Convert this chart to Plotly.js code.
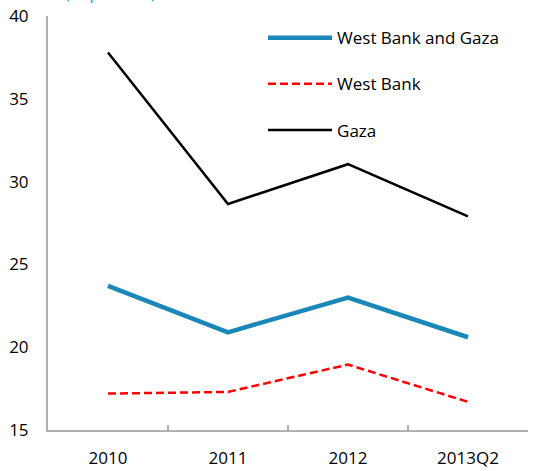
<!DOCTYPE html>
<html>
<head>
<meta charset="utf-8">
<script src="https://cdn.plot.ly/plotly-3.0.1.min.js"></script>
<style>html,body{margin:0;padding:0;background:#fff}#chart{width:544px;height:471px}</style>
</head>
<body>
<div id="chart"></div>
<script>
const categories = ["2010", "2011", "2012", "2013Q2"];
const westBankAndGaza = [23.7, 20.9, 23.0, 20.6];
const westBank = [17.2, 17.3, 18.95, 16.7];
const gaza = [37.8, 28.65, 31.05, 27.9];
const yTicks = [15, 20, 25, 30, 35, 40];

const font = "'Open Sans', 'Noto Sans', sans-serif";

const traces = [
  {x: categories, y: westBankAndGaza, name: "West Bank and Gaza", type: "scatter", mode: "lines",
   line: {color: "#1a87b8", width: 4.5}, legendgroup: "a"},
  {x: categories, y: westBank, name: "West Bank", type: "scatter", mode: "lines",
   line: {color: "#ff0000", width: 2.5, dash: "8px,4px"}, legendgroup: "b"},
  {x: categories, y: gaza, name: "Gaza", type: "scatter", mode: "lines",
   line: {color: "#000000", width: 2.5}, legendgroup: "c"}
];

const layout = {
  width: 544, height: 471,
  margin: {l: 48, r: 16, t: 16, b: 41},
  paper_bgcolor: "#fff", plot_bgcolor: "#fff",
  font: {family: font, size: 17, color: "#000"},
  showlegend: true,
  legend: {x: 0.448, y: 0.99, xanchor: "left", yanchor: "top", bgcolor: "rgba(0,0,0,0)",
           font: {family: font, size: 17, color: "#000"}, tracegroupgap: 21, traceorder: "grouped",
           itemwidth: 64},
  xaxis: {type: "category", range: [-0.5, 3.5], showgrid: false, zeroline: false,
          showline: true, linecolor: "#b0b0b0", linewidth: 2,
          ticks: "inside", tickson: "boundaries", ticklen: 5, tickcolor: "#b0b0b0", tickwidth: 1.5,
          ticklabelstandoff: 12, tickfont: {family: font, size: 17, color: "#000"}},
  yaxis: {range: [15, 40], tickvals: yTicks, showgrid: false, zeroline: false,
          showline: true, linecolor: "#b0b0b0", linewidth: 2, ticks: "",
          ticklabelstandoff: 14, tickfont: {family: font, size: 17, color: "#000"}},
  annotations: [{text: "(In percent)", xref: "paper", yref: "paper", x: 0.031, y: 1.025,
                 xanchor: "left", yanchor: "bottom", showarrow: false,
                 font: {family: font, size: 17, color: "#1a9ad6"}}]
};

Plotly.newPlot("chart", traces, layout, {displayModeBar: false, staticPlot: true});
</script>
</body>
</html>
